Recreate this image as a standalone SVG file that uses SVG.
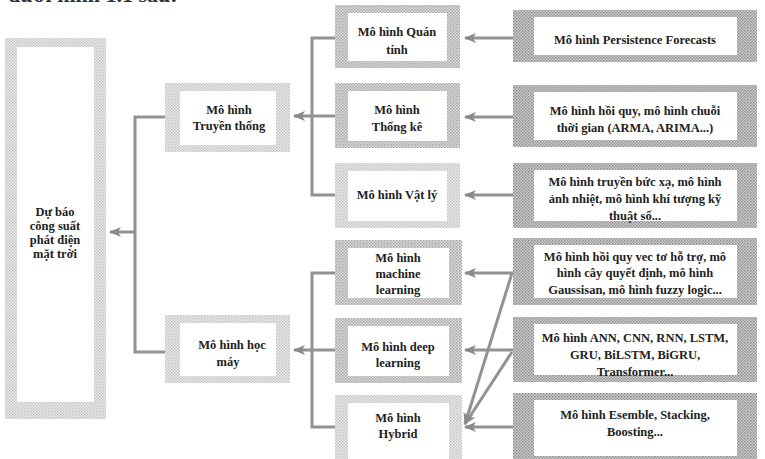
<svg xmlns="http://www.w3.org/2000/svg" width="765" height="459" viewBox="0 0 765 459">
<defs>
<pattern id="pDark" width="3" height="3" patternUnits="userSpaceOnUse">
<rect width="3" height="3" fill="#cfcfcf"/>
<rect width="1.5" height="1.5" fill="#8e8e8e"/>
<rect x="1.5" y="1.5" width="1.5" height="1.5" fill="#9a9a9a"/>
</pattern>
<pattern id="pMid" width="3" height="3" patternUnits="userSpaceOnUse">
<rect width="3" height="3" fill="#dedede"/>
<rect width="1.5" height="1.5" fill="#a4a4a4"/>
<rect x="1.5" y="1.5" width="1.5" height="1.5" fill="#b0b0b0"/>
</pattern>
<pattern id="pLight" width="3" height="3" patternUnits="userSpaceOnUse">
<rect width="3" height="3" fill="#ececec"/>
<rect width="1.5" height="1.5" fill="#c2c2c2"/>
<rect x="1.5" y="1.5" width="1.5" height="1.5" fill="#cacaca"/>
</pattern>
<marker id="ahe" viewBox="0 0 12 10" refX="11" refY="5" markerWidth="12" markerHeight="10" markerUnits="userSpaceOnUse" orient="auto">
<path d="M12,5 L0,0 L3,5 L0,10 Z" fill="#8a8a8a"/>
</marker>
</defs>
<style>
text{font-family:"Liberation Serif","Times New Roman",serif;font-weight:bold;font-size:12.5px;fill:#222;text-anchor:middle}
.in{fill:#fff}
.c{fill:none;stroke:#929292;stroke-width:3}
.top{text-anchor:start;font-size:22px;font-weight:bold;fill:#333}
</style>
<rect width="765" height="459" fill="#fff"/>
<text class="top" x="8" y="2">dưới hình 1.1 sau:</text>

<g id="connectors">
<path class="c" d="M165,117 H135 V352 H165"/>
<path class="c" d="M135,232 H110" marker-end="url(#ahe)"/>
<path class="c" d="M335,38 H312 V195 H335"/>
<path class="c" d="M335,116 H294" marker-end="url(#ahe)"/>
<path class="c" d="M335,273 H312 V427 H335"/>
<path class="c" d="M335,350 H294" marker-end="url(#ahe)"/>
<path class="c" d="M513,38 H465" marker-end="url(#ahe)"/>
<path class="c" d="M513,117 H465" marker-end="url(#ahe)"/>
<path class="c" d="M513,195 H465" marker-end="url(#ahe)"/>
<path class="c" d="M513,273 H465" marker-end="url(#ahe)"/>
<path class="c" d="M513,350 H465" marker-end="url(#ahe)"/>
<path class="c" d="M513,427 H465" marker-end="url(#ahe)"/>
<path class="c" d="M512,273 L465,424" marker-end="url(#ahe)"/>
<path class="c" d="M512,352 L465,424" marker-end="url(#ahe)"/>
</g>

<g id="n-root">
<rect x="5" y="38" width="101" height="381" fill="url(#pLight)"/>
<rect class="in" x="17" y="47" width="77" height="355"/>
<text x="55" y="216">Dự báo</text>
<text x="55" y="230">công suất</text>
<text x="55" y="244">phát điện</text>
<text x="55" y="258">mặt trời</text>
</g>

<g id="n-truyenthong">
<rect x="165" y="83" width="125" height="69" fill="url(#pLight)"/>
<rect class="in" x="180" y="91" width="96" height="54"/>
<text x="229" y="114">Mô hình</text>
<text x="229" y="130">Truyền thống</text>
</g>

<g id="n-hocmay">
<rect x="165" y="315" width="125" height="68" fill="url(#pLight)"/>
<rect class="in" x="180" y="323" width="96" height="53"/>
<text x="232" y="349">Mô hình học</text>
<text x="228" y="366">máy</text>
</g>

<g id="n-quantinh">
<rect x="335" y="5" width="125" height="63" fill="url(#pMid)"/>
<rect class="in" x="348" y="13" width="99" height="48"/>
<text x="397" y="36">Mô hình Quán</text>
<text x="397" y="54">tính</text>
</g>

<g id="n-thongke">
<rect x="335" y="83" width="125" height="65" fill="url(#pMid)"/>
<rect class="in" x="348" y="91" width="99" height="50"/>
<text x="397" y="114">Mô hình</text>
<text x="397" y="131">Thống kê</text>
</g>

<g id="n-vatly">
<rect x="335" y="163" width="125" height="65" fill="url(#pLight)"/>
<rect class="in" x="348" y="171" width="99" height="50"/>
<text x="397" y="199">Mô hình Vật lý</text>
</g>

<g id="n-machine">
<rect x="335" y="240" width="127" height="65" fill="url(#pMid)"/>
<rect class="in" x="348" y="248" width="101" height="50"/>
<text x="398" y="262">Mô hình</text>
<text x="398" y="278">machine</text>
<text x="398" y="294">learning</text>
</g>

<g id="n-deep">
<rect x="335" y="318" width="127" height="65" fill="url(#pMid)"/>
<rect class="in" x="348" y="326" width="101" height="50"/>
<text x="398" y="351">Mô hình deep</text>
<text x="398" y="367">learning</text>
</g>

<g id="n-hybrid">
<rect x="335" y="395" width="127" height="70" fill="url(#pLight)"/>
<rect class="in" x="348" y="403" width="101" height="56"/>
<text x="398" y="422">Mô hình</text>
<text x="398" y="438">Hybrid</text>
</g>

<g id="n-persistence">
<rect x="513" y="10" width="244" height="52" fill="url(#pDark)"/>
<rect class="in" x="534" y="17" width="203" height="38"/>
<text x="635" y="44">Mô hình Persistence Forecasts</text>
</g>

<g id="n-hoiquy">
<rect x="513" y="85" width="244" height="62" fill="url(#pDark)"/>
<rect class="in" x="534" y="92" width="203" height="48"/>
<text x="635" y="115">Mô hình hồi quy, mô hình chuỗi</text>
<text x="635" y="132">thời gian (ARMA, ARIMA...)</text>
</g>

<g id="n-truyenbucxa">
<rect x="513" y="163" width="244" height="65" fill="url(#pDark)"/>
<rect class="in" x="534" y="170" width="203" height="51"/>
<text x="635" y="186">Mô hình truyền bức xạ, mô hình</text>
<text x="635" y="203">ảnh nhiệt, mô hình khí tượng kỹ</text>
<text x="635" y="220">thuật số...</text>
</g>

<g id="n-vecto">
<rect x="513" y="238" width="244" height="67" fill="url(#pDark)"/>
<rect class="in" x="534" y="245" width="203" height="53"/>
<text x="635" y="261">Mô hình hồi quy vec tơ hỗ trợ, mô</text>
<text x="635" y="277">hình cây quyết định, mô hình</text>
<text x="635" y="294">Gaussisan, mô hình fuzzy logic...</text>
</g>

<g id="n-ann">
<rect x="513" y="317" width="244" height="65" fill="url(#pDark)"/>
<rect class="in" x="534" y="324" width="203" height="51"/>
<text x="635" y="342">Mô hình ANN, CNN, RNN, LSTM,</text>
<text x="635" y="359">GRU, BiLSTM, BiGRU,</text>
<text x="635" y="376">Transformer...</text>
</g>

<g id="n-esemble">
<rect x="513" y="393" width="244" height="70" fill="url(#pDark)"/>
<rect class="in" x="534" y="400" width="203" height="56"/>
<text x="635" y="419">Mô hình Esemble, Stacking,</text>
<text x="635" y="436">Boosting...</text>
</g>
</svg>
